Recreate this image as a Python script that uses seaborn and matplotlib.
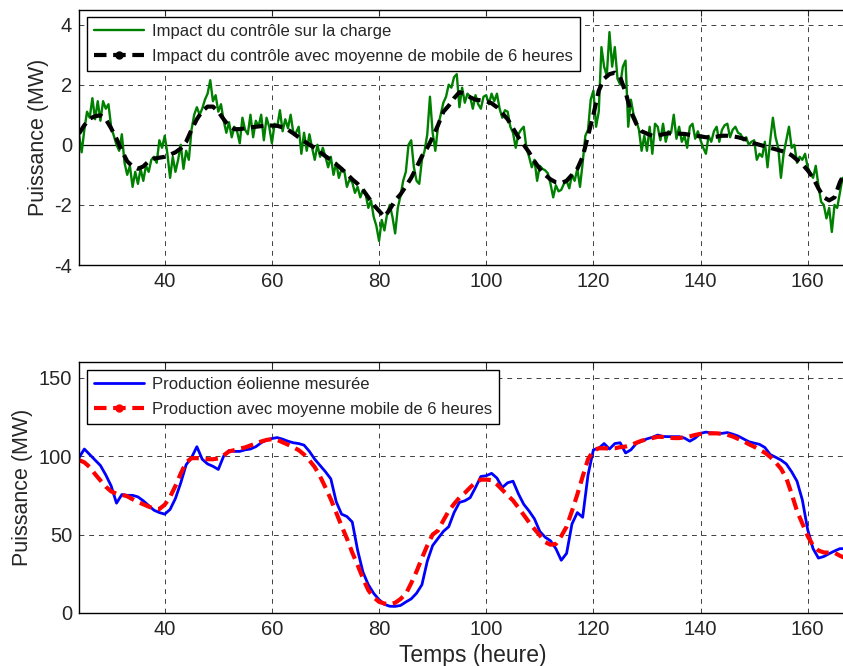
import numpy as np
import pandas as pd
import seaborn as sns
import matplotlib.pyplot as plt
from matplotlib.lines import Line2D

# --- data ---
# top panel: impact of control on load (MW), half-hour steps from 24 h
impact_hours = np.arange(24, 167, 0.5)
impact = [
    0.35, -0.25, 0.5, 1.1, 0.9, 1.55, 0.85, 1.45, 0.8, 1.45, 1.2, 1.35,
    0.6, 0.3, 0.0, -0.2, 0.35, -0.6, -1.0, -0.7, -1.4, -0.9, -1.3, -0.8,
    -1.2, -0.7, -0.9, -0.5, -0.4, -0.6, 0.15, -0.1, 0.3, -0.3, -1.1, -0.4,
    -0.9, -0.5, 0.0, -0.8, -0.2, -0.5, 0.5, 1.0, 1.25, 1.0, 1.2, 1.5,
    1.7, 2.15, 1.45, 1.65, 1.1, 1.35, 0.8, 0.4, 0.75, 0.25, 0.6, 0.45,
    0.05, 0.9, 0.5, 0.35, 1.0, 0.25, 0.8, 0.6, 1.0, 0.15, 0.9, 0.6,
    0.05, 0.7, 0.6, 1.15, 0.45, 0.85, 0.55, 1.0, 0.4, 0.4, 0.6, -0.3,
    0.4, -0.2, 0.35, -0.1, -0.5, 0.0, -0.4, -0.1, -0.4, -0.75, -0.4, -1.0,
    -0.6, -1.1, -0.8, -0.85, -1.4, -1.15, -1.25, -1.6, -1.4, -1.75, -1.5, -1.65,
    -2.1, -1.85, -2.4, -2.7, -3.2, -2.5, -2.85, -2.3, -2.0, -2.4, -2.95, -2.1,
    -1.7, -1.2, -0.9, 0.0, 0.15, -0.75, -1.2, -1.3, -0.5, -0.2, 0.35, 1.6,
    0.4, -0.2, 0.6, 1.0, 1.4, 1.6, 2.0, 1.9, 2.25, 2.35, 1.25, 1.9,
    1.4, 1.7, 1.6, 1.2, 1.65, 1.35, 1.2, 1.6, 1.65, 1.35, 1.7, 1.45,
    1.7, 1.2, 0.9, 1.15, 1.1, 0.6, 0.4, -0.1, 0.35, 0.5, 0.6, -0.1,
    -0.4, -0.75, -0.5, -1.2, -0.7, -0.8, -0.85, -0.95, -1.3, -1.75, -1.35, -1.55,
    -1.5, -1.3, -1.2, -1.45, -1.0, -1.2, -0.8, -1.4, -0.6, 0.3, 0.5, 1.5,
    1.8, 0.6, 1.1, 3.25, 2.6, 2.3, 3.75, 2.6, 3.25, 2.2, 2.0, 2.6,
    2.8, 0.6, 1.5, 1.0, 0.8, 0.5, -0.2, 0.3, -0.2, 0.6, -0.3, 0.7,
    0.6, 0.15, 0.7, 0.1, 0.45, 0.4, 1.0, 0.2, 0.6, 0.1, 0.3, -0.1,
    0.6, 0.7, 0.2, 0.45, 0.15, -0.1, -0.3, 0.3, 0.1, 0.45, 0.6, 0.1,
    0.5, 0.65, 0.7, 0.25, 0.5, 0.6, 0.4, 0.35, 0.15, 0.25, 0.0, 0.1,
    0.15, -0.5, -0.3, -0.4, 0.1, -0.75, 0.15, 0.9, 0.25, -0.1, -1.1, -0.3,
    0.15, 0.6, -0.1, 0.0, -0.6, -0.4, -0.5, -0.3, -0.75, -0.95, -1.1, -0.7,
    -1.35, -1.9, -2.0, -2.45, -2.1, -2.9, -2.0, -2.1, -1.6, -1.1,
]

# top panel: 6 h moving average, hourly
avg_hours = np.arange(24, 168)
impact_avg = [
    0.37, 0.65, 0.87, 0.95, 0.98, 0.85, 0.55, 0.2, -0.2, -0.55, -0.72, -0.8,
    -0.72, -0.55, -0.46, -0.43, -0.4, -0.33, -0.25, -0.12, 0.1, 0.5, 0.85, 1.12,
    1.27, 1.27, 1.1, 0.85, 0.62, 0.52, 0.52, 0.55, 0.58, 0.6, 0.62, 0.64,
    0.64, 0.63, 0.58, 0.5, 0.38, 0.25, 0.12, 0.0, -0.1, -0.25, -0.38, -0.5,
    -0.65, -0.8, -0.97, -1.15, -1.3, -1.5, -1.75, -2.0, -2.2, -2.4, -2.15, -1.85,
    -1.65, -1.38, -1.1, -0.75, -0.38, -0.1, 0.25, 0.65, 1.1, 1.3, 1.55, 1.75,
    1.7, 1.58, 1.5, 1.48, 1.45, 1.38, 1.25, 1.05, 0.85, 0.55, 0.25, 0.0,
    -0.25, -0.55, -0.8, -1.0, -1.15, -1.25, -1.27, -1.2, -1.0, -0.8, -0.4, 0.3,
    1.0, 1.8, 2.2, 2.35, 2.4, 2.25, 1.75, 1.1, 0.7, 0.45, 0.37, 0.3,
    0.3, 0.35, 0.38, 0.38, 0.37, 0.36, 0.33, 0.3, 0.28, 0.25, 0.25, 0.27,
    0.3, 0.3, 0.28, 0.25, 0.2, 0.15, 0.05, 0.0, -0.05, -0.1, -0.15, -0.2,
    -0.25, -0.35, -0.5, -0.65, -0.85, -1.1, -1.45, -1.75, -1.85, -1.75, -1.25, -0.9,
]

# bottom panel: measured wind production and 6 h moving average (MW), hourly
prod_hours = np.arange(24, 168)
prod_measured = [
    99, 104.5, 101, 97.5, 94, 88, 81, 70, 75.5, 75, 75, 74,
    71.5, 68.5, 65.5, 64, 63, 66, 73, 83, 94.5, 99, 106, 98,
    95, 93.5, 91.5, 100, 103.5, 103, 103, 104, 104.5, 106, 108.5, 110.3,
    111.2, 111.8, 110.8, 109.5, 108.5, 108, 107, 103, 98, 94, 90, 85.5,
    71, 63, 61.5, 58, 40, 26, 18, 12.5, 8.5, 5.5, 4.3, 4.2,
    4.8, 7, 9, 12.6, 18, 33, 43, 47.5, 52, 55, 64, 70.5,
    71.5, 73.5, 80, 87, 87.5, 89, 86, 80, 83, 84, 76, 69.3,
    65, 60, 52, 48.3, 46, 41, 33.6, 38, 56.7, 64, 61, 88,
    104, 105, 108, 104.5, 108, 108.5, 102, 104, 108, 109.5, 111, 112,
    113.4, 112.5, 112.4, 112.4, 112.4, 111.5, 109.5, 111.5, 114.5, 115.3, 114.8, 114.5,
    114.5, 115, 114, 112.8, 111, 109.2, 108.3, 107.5, 105.5, 101, 99.3, 97.5,
    95, 90, 84, 72, 53, 41, 35, 36, 37.8, 39.5, 41, 41,
]
prod_avg = [
    97.5, 96, 93, 88.5, 84.5, 80.5, 77.5, 76, 75.3, 74.4, 72.5, 70.7,
    69.3, 67.8, 66.5, 66.3, 69, 74, 81, 89, 96, 98.7, 98.7, 98.5,
    98, 98, 98.5, 100.5, 103, 103.8, 104.8, 105.5, 106.8, 108, 109.3, 110.3,
    110.8, 110.3, 108.8, 107.3, 105.6, 103.8, 101, 97.3, 93, 87, 80, 72.5,
    64, 55.5, 47.5, 38.5, 30.5, 22, 14.5, 10, 7.1, 6, 5.6, 6.5,
    8.9, 12.2, 19, 26.5, 35, 43, 50, 52.5, 59, 65, 69.5, 73.5,
    76.5, 80, 83.2, 85, 85, 84.7, 82, 78.5, 75, 71.7, 67.2, 62.5,
    57.8, 53.5, 49.5, 45.2, 43.5, 44, 49, 55, 65, 75.5, 87, 98,
    103.5, 105, 105, 104.8, 105, 105.7, 106.1, 107, 108.5, 109.8, 110.7, 111.5,
    112.3, 112.2, 111.8, 111.5, 111.5, 112, 112.6, 113.5, 114.2, 114.5, 114.5, 114.5,
    114.2, 113.6, 112.5, 111, 109.5, 107.6, 106, 104, 102.2, 99.5, 96, 92,
    86, 76, 65, 57, 49, 43, 39.8, 38.6, 38.4, 38.4, 36.5, 35,
]

lbl_impact = "Impact du contrôle sur la charge"
lbl_impact_avg = "Impact du contrôle avec moyenne de mobile de 6 heures"
lbl_prod = "Production éolienne mesurée"
lbl_prod_avg = "Production avec moyenne mobile de 6 heures"

sns.set_style("white")
plt.rcParams["font.family"] = ["Liberation Sans", "DejaVu Sans"]
plt.rcParams["axes.unicode_minus"] = False

fig = plt.figure(figsize=(8.43, 6.66), dpi=100)
# axes run slightly past the right edge, like the cropped original
ax1 = fig.add_axes([0.0937, 0.6021, 0.9153, 0.3836])
ax2 = fig.add_axes([0.0937, 0.0796, 0.9153, 0.3769])

df_imp = pd.DataFrame({"h": impact_hours, "v": impact})
df_imp_avg = pd.DataFrame({"h": avg_hours, "v": impact_avg})
df_prod = pd.DataFrame({"h": prod_hours, "meas": prod_measured, "avg": prod_avg})

grid_kw = dict(color="black", linestyle=(0, (5, 5)), linewidth=0.7, alpha=0.75)
dash = (0, (3, 1.6))
leg_kw = dict(loc="upper left", fontsize=12, frameon=True, fancybox=False,
              edgecolor="black", framealpha=1, handlelength=3.0,
              borderpad=0.4, labelspacing=0.6, handletextpad=0.5,
              borderaxespad=0)

# --- top panel ---
ax1.axhline(0, color="black", linewidth=0.9, zorder=1)
sns.lineplot(data=df_imp, x="h", y="v", ax=ax1, color="#008000", linewidth=1.7)
sns.lineplot(data=df_imp_avg, x="h", y="v", ax=ax1, color="black",
             linewidth=3.0, linestyle=dash)
ax1.set_xlim(24, 168)
ax1.set_ylim(-4, 4.5)
ax1.set_yticks([-4, -2, 0, 2, 4])
ax1.set_xticks([40, 60, 80, 100, 120, 140, 160])
ax1.set_xlabel("")
ax1.set_ylabel("Puissance (MW)", fontsize=15.5, labelpad=4)
ax1.grid(True, **grid_kw)
handles1 = [
    Line2D([], [], color="#008000", linewidth=1.7),
    Line2D([], [], color="black", linewidth=3.0, linestyle=dash,
           marker="o", markersize=5),
]
ax1.legend(handles1, [lbl_impact, lbl_impact_avg],
           bbox_to_anchor=(0.011, 0.97), **leg_kw)

# --- bottom panel ---
sns.lineplot(data=df_prod, x="h", y="meas", ax=ax2, color="#0000ff", linewidth=2.0)
sns.lineplot(data=df_prod, x="h", y="avg", ax=ax2, color="#ff0000",
             linewidth=3.0, linestyle=dash)
ax2.set_xlim(24, 168)
ax2.set_ylim(0, 160)
ax2.set_yticks([0, 50, 100, 150])
ax2.set_xticks([40, 60, 80, 100, 120, 140, 160])
ax2.set_xlabel("Temps (heure)", fontsize=16.5)
ax2.xaxis.set_label_coords(0.51, -0.125)
ax2.set_ylabel("Puissance (MW)", fontsize=15.5, labelpad=4)
ax2.grid(True, **grid_kw)
handles2 = [
    Line2D([], [], color="#0000ff", linewidth=2.0),
    Line2D([], [], color="#ff0000", linewidth=3.0, linestyle=dash,
           marker="o", markersize=5),
]
ax2.legend(handles2, [lbl_prod, lbl_prod_avg],
           bbox_to_anchor=(0.011, 0.967), **leg_kw)

for ax in (ax1, ax2):
    ax.tick_params(direction="in", labelsize=14.5, length=4, pad=5,
                   top=True, right=True)
    for s in ax.spines.values():
        s.set_color("black")
        s.set_linewidth(1.0)

fig.savefig("out.png", dpi=100)
